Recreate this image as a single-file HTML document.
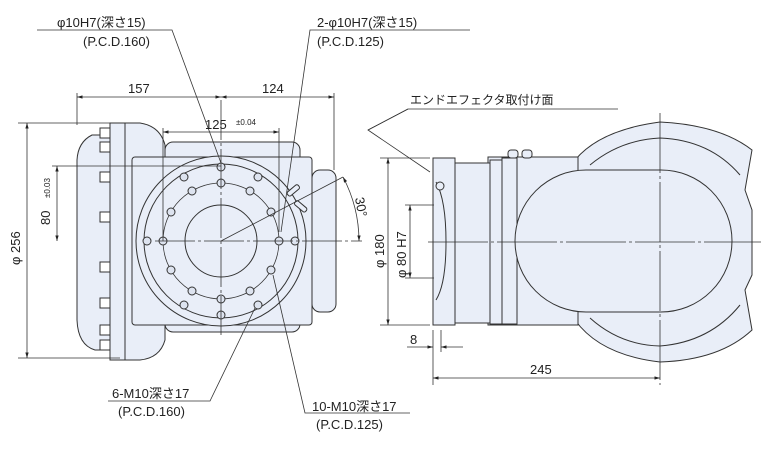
<!DOCTYPE html>
<html><head><meta charset="utf-8"><style>
html,body{margin:0;padding:0;background:#fff}
svg{display:block}
text{font-family:"Liberation Sans","Noto Sans CJK JP",sans-serif;fill:#222;font-size:13px}
</style></head><body>
<svg width="761" height="460" viewBox="0 0 761 460" xmlns="http://www.w3.org/2000/svg">
<defs>
<marker id="a" viewBox="0 0 10 10" refX="10" refY="5" markerWidth="7" markerHeight="7" orient="auto-start-reverse"><path d="M0,2L10,5L0,8z" fill="#222"/></marker>
</defs>
<g stroke="#333" stroke-width="1" fill="#e9eef8">
<!-- LEFT VIEW -->
<path d="M110,123 L140,123 Q160,126 165,145 L165,340 Q160,358 140,360 L110,360 Z"/>
<path d="M110,135 L92,135 Q78,142 77,160 L77,320 Q78,345 95,350 L110,350 Z"/>
<rect x="110" y="123" width="15" height="237"/>
<g fill="#fff">
<rect x="100" y="128" width="10" height="10"/><rect x="100" y="142" width="10" height="10"/>
<rect x="100" y="172" width="10" height="10"/><rect x="100" y="212" width="10" height="10"/>
<rect x="100" y="262" width="10" height="10"/><rect x="100" y="298" width="10" height="10"/>
<rect x="100" y="325" width="10" height="10"/><rect x="100" y="340" width="10" height="10"/>
</g>
<rect x="165" y="142" width="135" height="190" rx="8"/>
<rect x="312" y="170" width="24" height="142" rx="8"/>
<rect x="132" y="157" width="180" height="168" rx="3"/>
<circle cx="221" cy="241" r="85"/>
<circle cx="221" cy="241" r="77" fill="none"/>
<circle cx="221" cy="241" r="36"/>
<circle cx="221" cy="241" r="58" fill="none" stroke-width="0.8"/>
<g fill="#dde3ef">
<circle cx="221" cy="167" r="4"/><circle cx="221" cy="315" r="4"/>
<circle cx="147" cy="241" r="4"/><circle cx="295" cy="241" r="4"/>
<circle cx="184" cy="177" r="4"/><circle cx="258" cy="177" r="4"/>
<circle cx="184" cy="305" r="4"/><circle cx="258" cy="305" r="4"/>
<circle cx="221" cy="183" r="4"/><circle cx="221" cy="299" r="4"/>
<circle cx="163" cy="241" r="4"/><circle cx="279" cy="241" r="4"/>
<circle cx="192" cy="191" r="4"/><circle cx="250" cy="191" r="4"/>
<circle cx="192" cy="291" r="4"/><circle cx="250" cy="291" r="4"/>
<circle cx="171" cy="212" r="4"/><circle cx="271" cy="212" r="4"/>
<circle cx="171" cy="270" r="4"/><circle cx="271" cy="270" r="4"/>
</g>
<rect x="286" y="188" width="14" height="5" rx="2" transform="rotate(-40 293 190)"/>
<rect x="294" y="204" width="14" height="5" rx="2" transform="rotate(40 301 206)"/>
<!-- RIGHT VIEW -->
<path d="M575,160 Q600,130 660,122 Q720,125 752,150 L745,190 L752,210 L752,275 L745,290 L752,330 Q720,360 660,362 Q600,355 575,320 Z"/>
<path d="M590,165 Q620,140 660,138 Q710,140 740,175 M590,318 Q620,345 660,346 Q710,342 740,305" fill="none"/>
<rect x="488" y="157" width="90" height="168"/>
<rect x="455" y="163" width="35" height="160"/>
<rect x="490" y="160" width="12" height="164"/>
<rect x="502" y="158" width="15" height="166"/>
<rect x="508" y="150" width="10" height="8" rx="3"/><rect x="522" y="150" width="10" height="8" rx="3"/>
<rect x="515" y="170" width="217" height="142" rx="71"/>
<rect x="433" y="158" width="22" height="167"/>
<path d="M436,182 Q446,200 446,242 Q446,284 436,300" fill="none"/>
<circle cx="440" cy="186" r="4"/>
</g>
<!-- center lines -->
<g stroke="#333" stroke-width="0.8" fill="none">
<line x1="155" y1="241" x2="362" y2="241" stroke-dasharray="40,3,3,3"/>
<line x1="221" y1="100" x2="221" y2="335" stroke-dasharray="40,3,3,3"/>
<line x1="428" y1="242" x2="761" y2="242" stroke-dasharray="60,3,3,3"/>
<line x1="660" y1="113" x2="660" y2="385" stroke-dasharray="60,3,3,3"/>
</g>
<!-- dimension lines -->
<g stroke="#333" stroke-width="0.8" fill="none">
<line x1="77" y1="93" x2="77" y2="125"/><line x1="334" y1="93" x2="334" y2="170"/>
<line x1="77" y1="97" x2="221" y2="97" marker-start="url(#a)" marker-end="url(#a)"/>
<line x1="221" y1="97" x2="334" y2="97" marker-start="url(#a)" marker-end="url(#a)"/>
<line x1="163" y1="128" x2="163" y2="241"/><line x1="279" y1="128" x2="279" y2="232"/>
<line x1="163" y1="132" x2="279" y2="132" marker-start="url(#a)" marker-end="url(#a)"/>
<line x1="52" y1="166" x2="221" y2="166"/>
<line x1="57" y1="166" x2="57" y2="241" marker-start="url(#a)" marker-end="url(#a)"/>
<line x1="18" y1="123" x2="120" y2="123"/><line x1="18" y1="358" x2="120" y2="358"/>
<line x1="27" y1="123" x2="27" y2="358" marker-start="url(#a)" marker-end="url(#a)"/>
<line x1="221" y1="241" x2="343" y2="177"/>
<path d="M343,177 A138,138 0 0 1 359,241" marker-start="url(#a)" marker-end="url(#a)"/>
<!-- leaders -->
<polyline points="37,30 172,30 221,163"/>
<polyline points="470,30 310,30 281,232" />
<polyline points="108,401 210,401 255,308"/>
<polyline points="410,413 305,413 273,275"/>
<polyline points="618,109 408,109 368,130 430,172"/>
<line x1="408" y1="109" x2="368" y2="130"/>
<!-- right dims -->
<line x1="380" y1="158" x2="430" y2="158"/><line x1="380" y1="325" x2="430" y2="325"/>
<line x1="388" y1="158" x2="388" y2="325" marker-start="url(#a)" marker-end="url(#a)"/>
<line x1="405" y1="205" x2="434" y2="205"/><line x1="405" y1="278" x2="434" y2="278"/>
<line x1="410" y1="205" x2="410" y2="278" marker-start="url(#a)" marker-end="url(#a)"/>
<line x1="433" y1="330" x2="433" y2="385"/><line x1="441" y1="330" x2="441" y2="352"/>
<line x1="407" y1="347" x2="433" y2="347" marker-end="url(#a)"/>
<line x1="463" y1="347" x2="441" y2="347" marker-end="url(#a)"/>
<line x1="433" y1="378" x2="660" y2="378" marker-start="url(#a)" marker-end="url(#a)"/>
</g>
<!-- text -->
<text x="57" y="27">φ10H7(深さ15)</text>
<text x="83" y="46">(P.C.D.160)</text>
<text x="317" y="27">2-φ10H7(深さ15)</text>
<text x="317" y="46">(P.C.D.125)</text>
<text x="128" y="93">157</text>
<text x="262" y="93">124</text>
<text x="205" y="129">125</text><text x="236" y="125" style="font-size:8px">±0.04</text>
<text transform="translate(50,225) rotate(-90)">80</text>
<text transform="translate(50,198) rotate(-90)" style="font-size:8px">±0.03</text>
<text transform="translate(20,265) rotate(-90)">φ 256</text>
<text transform="translate(355,198) rotate(80)">30°</text>
<text x="112" y="398">6-M10深さ17</text>
<text x="118" y="416">(P.C.D.160)</text>
<text x="312" y="411">10-M10深さ17</text>
<text x="316" y="429">(P.C.D.125)</text>
<text x="410" y="104" style="font-size:12px">エンドエフェクタ取付け面</text>
<text transform="translate(384,268) rotate(-90)">φ 180</text>
<text transform="translate(406,278) rotate(-90)">φ 80 H7</text>
<text x="410" y="344">8</text>
<text x="530" y="374">245</text>
</svg>
</body></html>
